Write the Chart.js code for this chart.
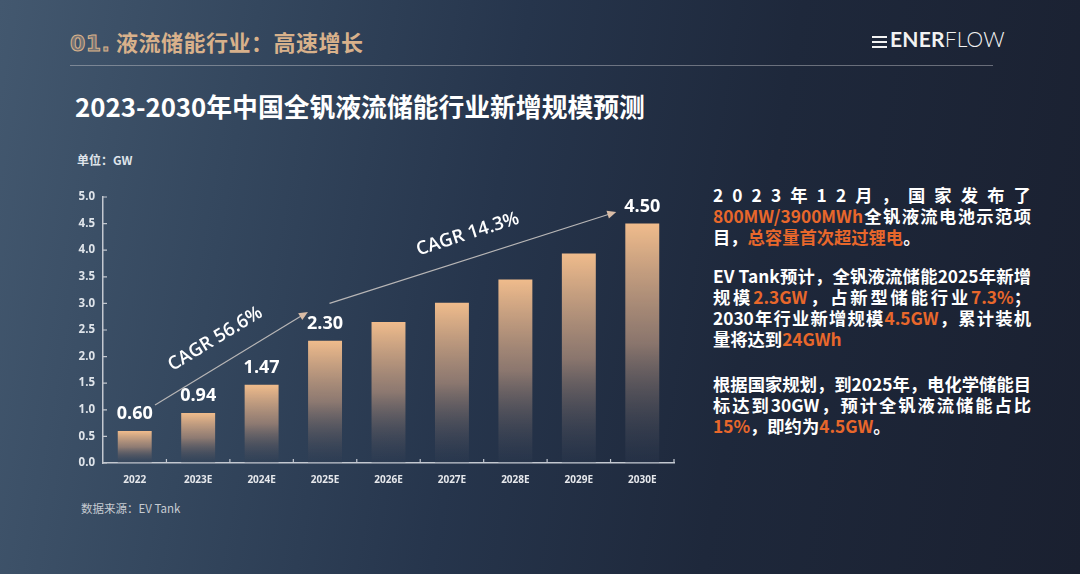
<!DOCTYPE html>
<html lang="zh">

<head>
    <meta charset="UTF-8">
    <script src="https://cdn.jsdelivr.net/npm/chart.js@4.4.0/dist/chart.umd.min.js"></script>
    <title>全钒液流储能行业新增规模预测</title>
    <style>
        html, body { margin: 0; padding: 0; }
        body {
            width: 1080px; height: 574px; position: relative; overflow: hidden;
            font-family: "Noto Sans CJK SC", "Noto Sans", sans-serif;
            background: linear-gradient(100deg, #43586f 0%, #34475e 22%, #26354c 45%, #1e283b 68%, #1a2030 100%);
            color: #fff;
        }
        .abs { position: absolute; }
        #head { left: 70px; top: 25px; font-size: 22px; font-weight: 700; color: #d8b18b; letter-spacing: 0.5px; }
        #head .num { color: rgba(216, 177, 139, 0.35); -webkit-text-stroke: 1px #d8b18b; font-family: "DejaVu Sans", sans-serif; }
        #rule { left: 70px; top: 65px; width: 923px; height: 1px; background: rgba(200, 200, 205, 0.45); }
        #logo { left: 872px; top: 26px; font-family: Lato, "Open Sans", sans-serif; font-size: 21px; color: #f2f2f2; letter-spacing: 0.2px; }
        #logo b { font-weight: 700; }
        #logo span.l { font-weight: 300; }
        #logo .ic { display: inline-block; width: 15px; height: 12px; margin-right: 3px; vertical-align: -1px;
            background: linear-gradient(#f2f2f2 0 2px, transparent 2px 5px, #f2f2f2 5px 7px, transparent 7px 10px, #f2f2f2 10px 12px); }
        #title { left: 75px; top: 87px; font-size: 25.8px; font-weight: 700; color: #fff; }
        #unit { left: 77px; top: 151px; font-size: 12px; font-weight: 700; color: #dfe4ea; }
        #src { left: 81px; top: 500px; font-size: 11.5px; color: #c6cbd2; }
        #chartBox { left: 60px; top: 180px; width: 620px; height: 320px; }
        .para { left: 713px; width: 318px; font-size: 17.3px; font-weight: 700; line-height: 21px; color: #fff; }
        .para div { text-align: justify; text-align-last: justify; white-space: nowrap; }
        .para div.end { text-align-last: left; }
        .para .sp { display: flex; justify-content: space-between; }
        .o { color: #e8672b; }
    </style>
</head>

<body>
    <div id="head" class="abs"><span class="num">01.</span> 液流储能行业：高速增长</div>
    <div id="rule" class="abs"></div>
    <div id="logo" class="abs"><span class="ic"></span><b>ENER</b><span class="l">FLOW</span></div>
    <div id="title" class="abs">2023-2030年中国全钒液流储能行业新增规模预测</div>
    <div id="unit" class="abs">单位：GW</div>
    <div id="src" class="abs">数据来源：EV Tank</div>

    <div id="chartBox" class="abs"><canvas id="myChart" width="620" height="320"></canvas></div>

    <div class="para abs" style="top: 184px;">
        <div class="sp"><span>2</span><span>0</span><span>2</span><span>3</span><span>年</span><span>1</span><span>2</span><span>月</span><span>，</span><span>国</span><span>家</span><span>发</span><span>布</span><span>了</span></div>
        <div><span class="o">800MW/3900MWh</span>全钒液流电池示范项</div>
        <div class="end">目，<span class="o">总容量首次超过锂电</span>。</div>
    </div>
    <div class="para abs" style="top: 265px;">
        <div>EV Tank预计，全钒液流储能2025年新增</div>
        <div>规模<span class="o">2.3GW</span>，占新型储能行业<span class="o">7.3%</span>；</div>
        <div>2030年行业新增规模<span class="o">4.5GW</span>，累计装机</div>
        <div class="end">量将达到<span class="o">24GWh</span></div>
    </div>
    <div class="para abs" style="top: 373px;">
        <div>根据国家规划，到2025年，电化学储能目</div>
        <div>标达到30GW，预计全钒液流储能占比</div>
        <div class="end"><span class="o">15%</span>，即约为<span class="o">4.5GW</span>。</div>
    </div>

    <script>
        const labels = ['2022', '2023E', '2024E', '2025E', '2026E', '2027E', '2028E', '2029E', '2030E'];
        const values = [0.60, 0.94, 1.47, 2.30, 2.65, 3.01, 3.45, 3.94, 4.50];
        const yTicks = [0, 0.5, 1, 1.5, 2, 2.5, 3, 3.5, 4, 4.5, 5];
        // only these bars carry a value label in the original
        const labelled = [0, 1, 2, 3, 8];

        // CAGR arrows, in data units (category index, value)
        const arrowFrom = [[0.32, 1.09], [3.07, 3.00]];
        const arrowTo = [[2.73, 2.84], [7.59, 4.72]];
        const arrowText = ['CAGR 56.6%', 'CAGR 14.3%'];
        const arrowTextAt = [[1.27, 2.33], [5.25, 4.30]];

        const axisColor = '#c3c8d0';

        function barFill(context) {
            const chart = context.chart;
            if (!chart.chartArea || context.parsed === undefined) return '#e6b68a';
            const y = chart.scales.y;
            const top = y.getPixelForValue(context.parsed.y);
            const bottom = y.getPixelForValue(0);
            const g = chart.ctx.createLinearGradient(0, top, 0, bottom);
            g.addColorStop(0, 'rgba(240, 188, 140, 1)');
            g.addColorStop(0.5, 'rgba(165, 136, 120, 0.8)');
            g.addColorStop(1, 'rgba(48, 62, 84, 0.25)');
            return g;
        }

        const decor = {
            id: 'decor',
            afterDatasetsDraw(chart) {
                const ctx = chart.ctx;
                const x = chart.scales.x, y = chart.scales.y;
                const area = chart.chartArea;
                ctx.save();

                // small inner ticks on both axes
                ctx.strokeStyle = axisColor;
                ctx.lineWidth = 1.2;
                ctx.beginPath();
                yTicks.forEach(v => {
                    const py = y.getPixelForValue(v);
                    ctx.moveTo(area.left, py);
                    ctx.lineTo(area.left + 4, py);
                });
                for (let i = 1; i <= labels.length; i++) {
                    const px = x.getPixelForValue(i - 0.5);
                    ctx.moveTo(px, area.bottom);
                    ctx.lineTo(px, area.bottom - 4);
                }
                ctx.stroke();

                // value labels
                const meta = chart.getDatasetMeta(0);
                ctx.fillStyle = '#ffffff';
                ctx.font = '700 18px "Open Sans", "Noto Sans", sans-serif';
                ctx.textAlign = 'center';
                ctx.textBaseline = 'middle';
                labelled.forEach(i => {
                    const bar = meta.data[i];
                    ctx.fillText(values[i].toFixed(2), bar.x, bar.y - 17);
                });

                // CAGR arrows
                arrowFrom.forEach((from, i) => {
                    const x0 = x.getPixelForValue(from[0]), y0 = y.getPixelForValue(from[1]);
                    const x1 = x.getPixelForValue(arrowTo[i][0]), y1 = y.getPixelForValue(arrowTo[i][1]);
                    const ang = Math.atan2(y1 - y0, x1 - x0);
                    ctx.strokeStyle = '#b8b6b6';
                    ctx.lineWidth = 1.2;
                    ctx.beginPath();
                    ctx.moveTo(x0, y0);
                    ctx.lineTo(x1 - 6 * Math.cos(ang), y1 - 6 * Math.sin(ang));
                    ctx.stroke();
                    ctx.fillStyle = '#d9bca6';
                    ctx.beginPath();
                    ctx.moveTo(x1, y1);
                    ctx.lineTo(x1 - 9 * Math.cos(ang) + 4 * Math.sin(ang), y1 - 9 * Math.sin(ang) - 4 * Math.cos(ang));
                    ctx.lineTo(x1 - 9 * Math.cos(ang) - 4 * Math.sin(ang), y1 - 9 * Math.sin(ang) + 4 * Math.cos(ang));
                    ctx.closePath();
                    ctx.fill();

                    const tx = x.getPixelForValue(arrowTextAt[i][0]), ty = y.getPixelForValue(arrowTextAt[i][1]);
                    ctx.save();
                    ctx.translate(tx, ty);
                    ctx.rotate(ang);
                    ctx.fillStyle = '#ffffff';
                    ctx.font = '600 18.5px "Open Sans", "Noto Sans", sans-serif';
                    ctx.fillText(arrowText[i], 0, 0);
                    ctx.restore();
                });
                ctx.restore();
            }
        };

        const ctx = document.getElementById('myChart').getContext('2d');
        const myChart = new Chart(ctx, {
            type: 'bar',
            data: {
                labels: labels,
                datasets: [{
                    label: 'GW',
                    data: values,
                    backgroundColor: barFill,
                    borderWidth: 0,
                    barPercentage: 0.535,
                    categoryPercentage: 1
                }]
            },
            options: {
                responsive: false,
                animation: false,
                layout: { padding: { top: 17, right: 6, left: 0, bottom: 0 } },
                plugins: { legend: { display: false }, tooltip: { enabled: false } },
                scales: {
                    x: {
                        grid: { display: false, drawTicks: false },
                        border: { color: axisColor, width: 1.5 },
                        ticks: {
                            color: '#e6e8ec',
                            padding: 11,
                            font: { family: '"Open Sans", "Noto Sans", sans-serif', size: 10, weight: '700' }
                        },
                        afterFit(scale) { scale.height = 37; }
                    },
                    y: {
                        min: 0,
                        max: 5,
                        grid: { display: false, drawTicks: false },
                        border: { color: axisColor, width: 1.5 },
                        ticks: {
                            stepSize: 0.5,
                            color: '#dfe4ea',
                            padding: 8,
                            font: { family: '"Open Sans", "Noto Sans", sans-serif', size: 11.5, weight: '700' },
                            callback: v => Number(v).toFixed(1)
                        },
                        afterFit(scale) { scale.width = 43; }
                    }
                }
            },
            plugins: [decor]
        });
    </script>
</body>

</html>
